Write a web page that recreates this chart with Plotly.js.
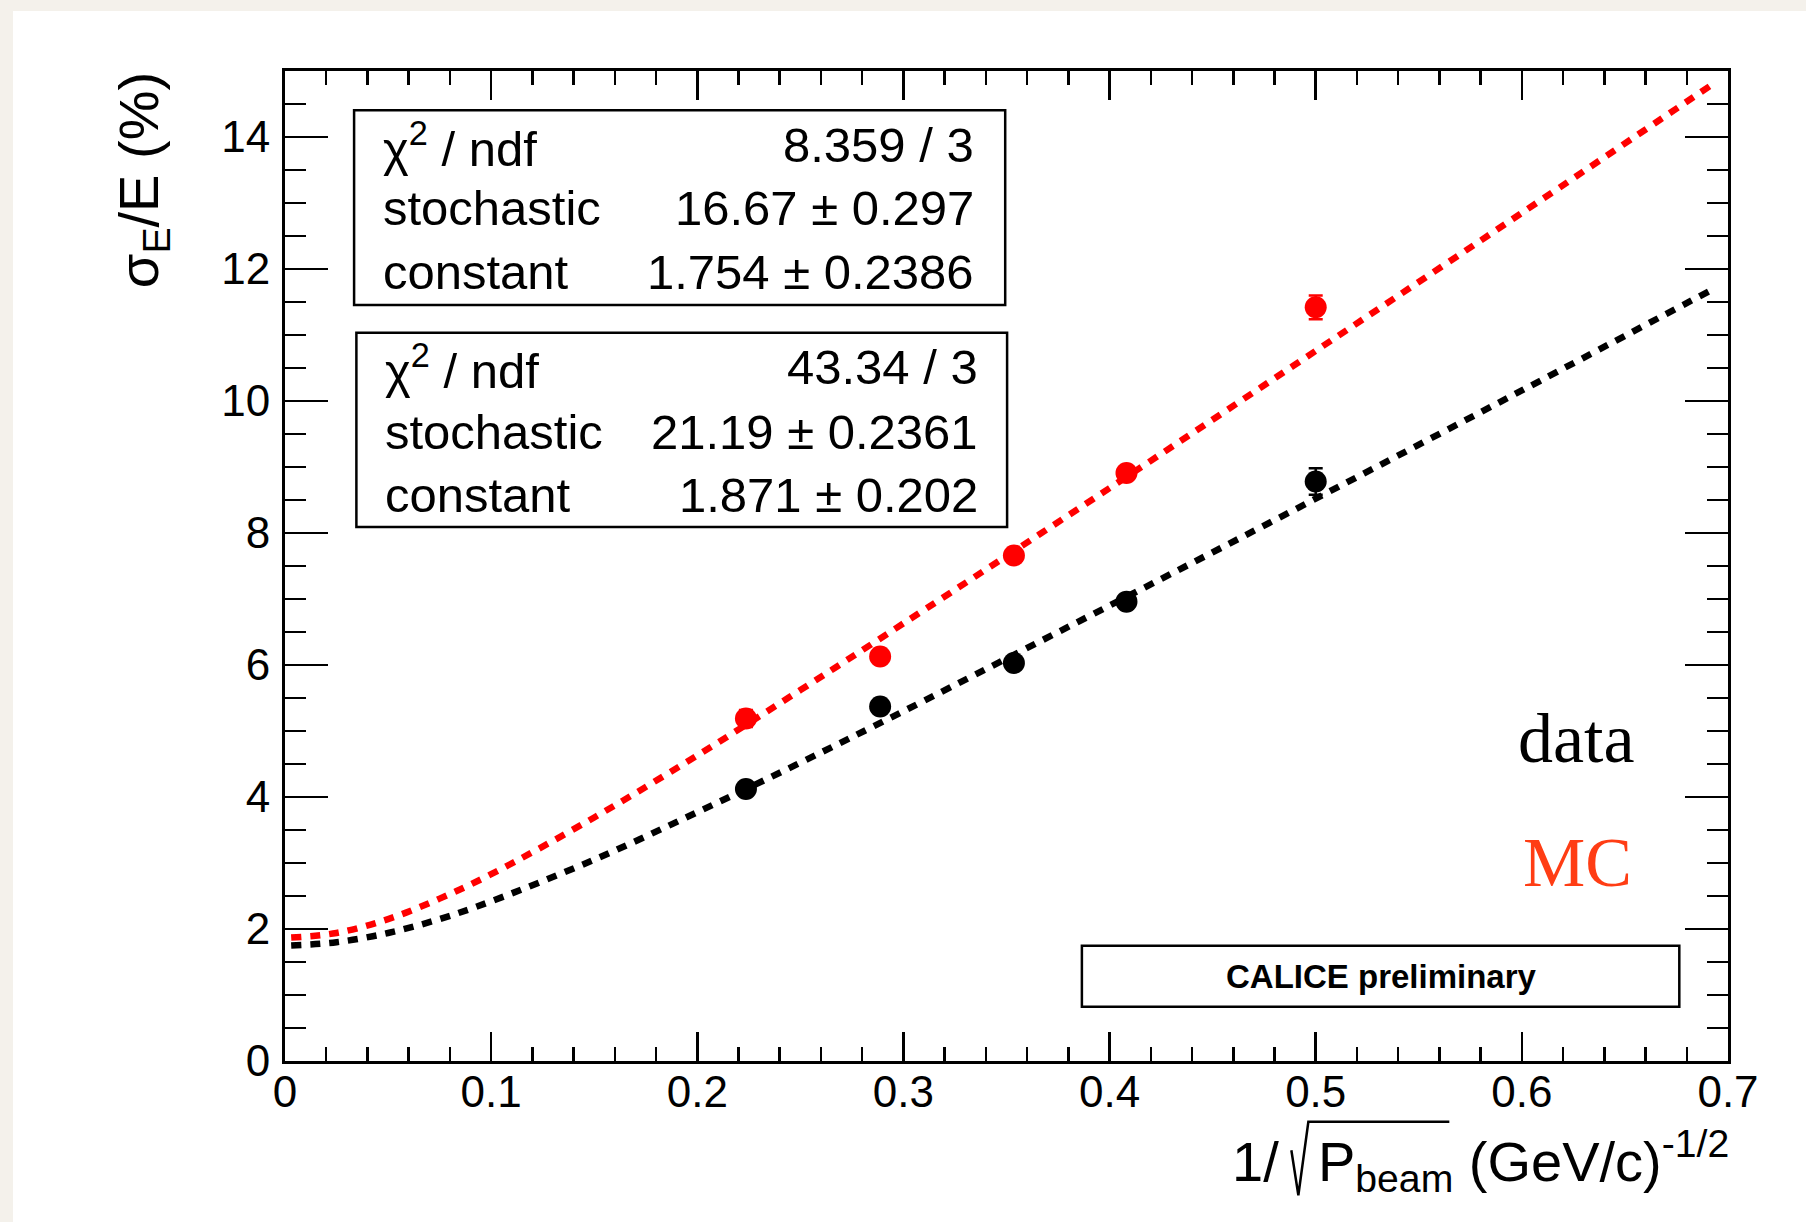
<!DOCTYPE html>
<html>
<head>
<meta charset="utf-8">
<script src="https://cdn.plot.ly/plotly-3.0.1.min.js"></script>
<style>
  html, body { margin: 0; padding: 0; background: #f4f1eb; width: 1806px; height: 1222px; overflow: hidden; }
  #chart { position: absolute; left: 13px; top: 11px; width: 1793px; height: 1211px; background: #ffffff; }
</style>
</head>
<body>
<div id="chart"></div>
<script>
// ---- data ----
const invSqrtP = [0.2236, 0.2887, 0.3536, 0.4082, 0.5];        // 1/sqrt(P) for 20,12,8,6,4 GeV/c
const dataRes  = [4.12, 5.37, 6.03, 6.96, 8.78];               // black points (data)
const dataErr  = [0.05, 0.06, 0.06, 0.08, 0.20];
const mcRes    = [5.19, 6.13, 7.66, 8.91, 11.42];              // red points (MC)
const mcErr    = [0.13, 0.06, 0.07, 0.08, 0.18];

// fit curves
const fitX     = [0.003, 0.025, 0.05, 0.075, 0.1, 0.15, 0.2, 0.25, 0.3, 0.4, 0.5, 0.6, 0.693];
const dataFitY = [1.75, 1.80, 1.94, 2.15, 2.42, 3.05, 3.77, 4.52, 5.30, 6.90, 8.52, 10.16, 11.70];
const mcFitY   = [1.87, 1.94, 2.15, 2.46, 2.83, 3.69, 4.63, 5.62, 6.63, 8.68, 10.76, 12.85, 14.81];

// fit statistics boxes
const statLabels = ['\u03C7<sup>2</sup> / ndf', 'stochastic', 'constant'];
const dataStats  = ['8.359 / 3', '16.67 \u00B1 0.297', '1.754 \u00B1 0.2386'];
const mcStats    = ['43.34 / 3', '21.19 \u00B1 0.2361', '1.871 \u00B1 0.202'];

const xTicks = [0, 0.1, 0.2, 0.3, 0.4, 0.5, 0.6, 0.7];
const yTicks = [0, 2, 4, 6, 8, 10, 12, 14];

// ---- plot geometry helpers (page px -> paper) ----
const PL = 284.5, PR = 1727.7, PT = 71.4, PB = 1060.8;
const px = X => (X - PL) / (PR - PL);
const py = Y => (PB - Y) / (PB - PT);

const SANS = 'Liberation Sans, Arial, Helvetica, sans-serif';
const SERIF = 'Liberation Serif, Times New Roman, serif';

const traces = [
  { x: fitX, y: mcFitY, mode: 'lines', line: { color: '#ff0000', width: 6.5, dash: '10px,9px', shape: 'spline' }, hoverinfo: 'skip', showlegend: false },
  { x: fitX, y: dataFitY, mode: 'lines', line: { color: '#000000', width: 6.5, dash: '10px,9px', shape: 'spline' }, hoverinfo: 'skip', showlegend: false },
  { x: invSqrtP, y: mcRes, mode: 'markers', marker: { color: '#ff0000', size: 22, symbol: 'circle' },
    error_y: { type: 'data', array: mcErr, visible: true, color: '#ff0000', thickness: 2.5, width: 7 }, showlegend: false },
  { x: invSqrtP, y: dataRes, mode: 'markers', marker: { color: '#000000', size: 22, symbol: 'circle' },
    error_y: { type: 'data', array: dataErr, visible: true, color: '#000000', thickness: 2.5, width: 7 }, showlegend: false },
  { x: [], y: [], xaxis: 'x2', yaxis: 'y2', mode: 'markers', showlegend: false, hoverinfo: 'skip' }
];

const axCommon = { showgrid: false, zeroline: false, showline: true, linecolor: '#000', linewidth: 3,
  ticks: 'inside', tickcolor: '#000', tickwidth: 2.5, fixedrange: true };

const layout = {
  width: 1793, height: 1211,
  margin: { l: PL - 13, r: 13 + 1793 - PR, t: PT - 11, b: 11 + 1211 - PB, pad: 0 },
  paper_bgcolor: '#ffffff', plot_bgcolor: '#ffffff',
  showlegend: false,
  xaxis: Object.assign({}, axCommon, {
    range: [0, 0.7], tickvals: xTicks, ticktext: xTicks.map(String), ticklen: 29,
    minor: { dtick: 0.02, tick0: 0, ticks: 'inside', ticklen: 14, tickwidth: 2.5, tickcolor: '#000' },
    tickfont: { family: SANS, size: 44, color: '#000' }, ticklabelstandoff: -10
  }),
  yaxis: Object.assign({}, axCommon, {
    range: [0, 15], tickvals: yTicks, ticktext: yTicks.map(String), ticklen: 43,
    minor: { dtick: 0.5, tick0: 0, ticks: 'inside', ticklen: 21, tickwidth: 2.5, tickcolor: '#000' },
    tickfont: { family: SANS, size: 44, color: '#000' }, ticklabelstandoff: 3
  }),
  xaxis2: Object.assign({}, axCommon, {
    overlaying: 'x', side: 'top', anchor: 'y2', range: [0, 0.7], tickvals: xTicks, ticklen: 29, showticklabels: false,
    minor: { dtick: 0.02, tick0: 0, ticks: 'inside', ticklen: 14, tickwidth: 2.5, tickcolor: '#000' }
  }),
  yaxis2: Object.assign({}, axCommon, {
    overlaying: 'y', side: 'right', anchor: 'x2', range: [0, 15], tickvals: yTicks, ticklen: 43, showticklabels: false,
    minor: { dtick: 0.5, tick0: 0, ticks: 'inside', ticklen: 21, tickwidth: 2.5, tickcolor: '#000' }
  }),
  shapes: [
    { type: 'rect', xref: 'paper', yref: 'paper', x0: px(353.6), x1: px(1004.8), y0: py(305.2), y1: py(110.6),
      line: { color: '#000', width: 2.5 }, fillcolor: '#fff', layer: 'above' },
    { type: 'rect', xref: 'paper', yref: 'paper', x0: px(355.9), x1: px(1006.7), y0: py(527), y1: py(333),
      line: { color: '#000', width: 2.5 }, fillcolor: '#fff', layer: 'above' },
    { type: 'rect', xref: 'paper', yref: 'paper', x0: px(1081.5), x1: px(1679), y0: py(1006.7), y1: py(945.6),
      line: { color: '#000', width: 2.5 }, fillcolor: '#fff', layer: 'above' },
    // square-root sign of the x-axis title
    { type: 'path', xref: 'paper', yref: 'paper', layer: 'above', line: { color: '#000', width: 2.5 },
      path: 'M' + px(1291) + ',' + py(1150) + ' L' + px(1298) + ',' + py(1195) + ' L' + px(1308) + ',' + py(1121.5) +
            ' L' + px(1449) + ',' + py(1121.5) }
  ],
  annotations: []
};

const rows1 = [145, 208.5, 272];
const rows2 = [367, 432, 495];
const statFont = { family: SANS, size: 49, color: '#000' };
statLabels.forEach((lab, i) => {
  layout.annotations.push({ xref: 'paper', yref: 'paper', x: px(380.5), y: py(rows1[i]), xanchor: 'left', yanchor: 'middle', text: lab, showarrow: false, font: statFont });
  layout.annotations.push({ xref: 'paper', yref: 'paper', x: px(976), y: py(rows1[i]), xanchor: 'right', yanchor: 'middle', text: dataStats[i], showarrow: false, font: statFont });
  layout.annotations.push({ xref: 'paper', yref: 'paper', x: px(383), y: py(rows2[i]), xanchor: 'left', yanchor: 'middle', text: lab, showarrow: false, font: statFont });
  layout.annotations.push({ xref: 'paper', yref: 'paper', x: px(980), y: py(rows2[i]), xanchor: 'right', yanchor: 'middle', text: mcStats[i], showarrow: false, font: statFont });
});

layout.annotations.push(
  { xref: 'paper', yref: 'paper', x: px(1381), y: py(976), xanchor: 'center', yanchor: 'middle',
    text: '<b>CALICE preliminary</b>', showarrow: false, font: { family: SANS, size: 33, color: '#000' } },
  { xref: 'paper', yref: 'paper', x: px(1576), y: py(738), xanchor: 'center', yanchor: 'middle',
    text: 'data', showarrow: false, font: { family: SERIF, size: 70, color: '#000' } },
  { xref: 'paper', yref: 'paper', x: px(1577), y: py(862), xanchor: 'center', yanchor: 'middle',
    text: 'MC', showarrow: false, font: { family: SERIF, size: 70, color: '#ff3d14' } },
  { xref: 'paper', yref: 'paper', x: px(142), y: py(181), xanchor: 'center', yanchor: 'middle', textangle: -90,
    text: '\u03C3<sub>E</sub>/E (%)', showarrow: false, font: { family: SANS, size: 56, color: '#000' } },
  { xref: 'paper', yref: 'paper', x: px(1731), y: py(1161), xanchor: 'right', yanchor: 'middle',
    text: '1/\u2002\u2009P<sub>beam</sub> (GeV/c)<sup>-1/2</sup>', showarrow: false,
    font: { family: SANS, size: 56, color: '#000' } }
);

Plotly.newPlot('chart', traces, layout, { staticPlot: true, displayModeBar: false });
</script>
</body>
</html>
